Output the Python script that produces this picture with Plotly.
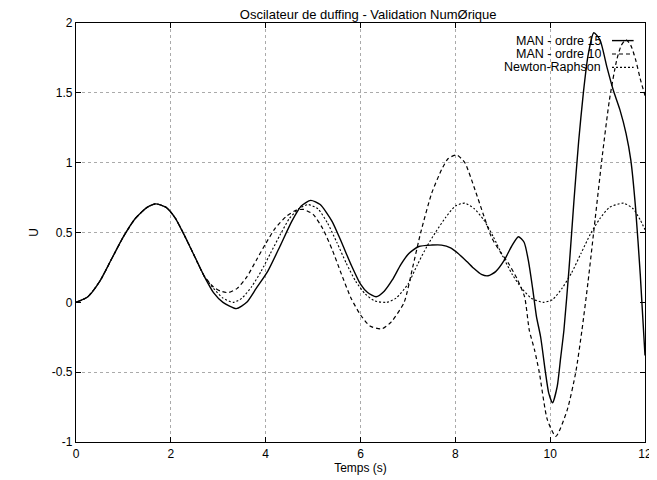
import plotly.graph_objects as go

# Common start (all three solutions coincide)
t_common = [0, 0.25, 0.5, 0.75, 1.0, 1.25, 1.5, 1.68, 1.9, 2.1, 2.3, 2.5, 2.7]
u_common = [0, 0.04, 0.15, 0.31, 0.47, 0.60, 0.68, 0.705, 0.68, 0.60, 0.47, 0.33, 0.19]

# MAN - ordre 15 (solid)
t_man15 = [2.9, 3.1, 3.38, 3.6, 3.8, 4.04, 4.3, 4.55, 4.75, 4.95, 5.15, 5.4, 5.6, 5.8,
           6.0, 6.15, 6.33, 6.5, 6.67, 6.85, 7.02, 7.23, 7.5, 7.71, 7.9, 8.06, 8.25,
           8.4, 8.55, 8.69, 8.85, 9.03, 9.2, 9.33, 9.45, 9.54, 9.63, 9.71, 9.8, 9.9,
           9.97, 10.05, 10.15, 10.22, 10.29, 10.4, 10.5, 10.6, 10.7, 10.8, 10.92,
           11.05, 11.2, 11.33, 11.47, 11.6, 11.7, 11.8, 11.9, 12.0]
u_man15 = [0.07, 0.0, -0.045, 0.0, 0.10, 0.22, 0.40, 0.58, 0.69, 0.73, 0.70, 0.58, 0.43,
           0.27, 0.13, 0.07, 0.04, 0.08, 0.16, 0.27, 0.35, 0.40, 0.41, 0.41, 0.39, 0.35,
           0.29, 0.24, 0.20, 0.19, 0.22, 0.30, 0.41, 0.47, 0.43, 0.30, 0.10, -0.10,
           -0.25, -0.50, -0.65, -0.72, -0.60, -0.40, -0.20, 0.25, 0.72, 1.15, 1.50,
           1.77, 1.93, 1.88, 1.68, 1.52, 1.38, 1.21, 1.02, 0.68, 0.20, -0.38]

# MAN - ordre 10 (dashed)
t_man10 = [2.9, 3.05, 3.21, 3.4, 3.6, 3.8, 4.0, 4.2, 4.45, 4.65, 4.8, 5.0, 5.2, 5.4,
           5.6, 5.8, 6.0, 6.2, 6.45, 6.65, 6.92, 7.1, 7.27, 7.5, 7.71, 7.85, 8.03,
           8.2, 8.42, 8.6, 8.77, 8.95, 9.12, 9.3, 9.46, 9.56, 9.67, 9.77, 9.94,
           10.12, 10.36, 10.54, 10.67, 10.8, 10.95, 11.1, 11.25, 11.4, 11.5, 11.6,
           11.7, 11.8, 11.9, 12.0]
u_man10 = [0.11, 0.08, 0.07, 0.10, 0.18, 0.30, 0.42, 0.53, 0.62, 0.66, 0.665, 0.63,
           0.53, 0.38, 0.20, 0.03, -0.09, -0.17, -0.19, -0.14, 0.0, 0.25, 0.50, 0.78,
           0.95, 1.03, 1.055, 1.0, 0.80, 0.62, 0.46, 0.36, 0.28, 0.17, 0.04, -0.20,
           -0.34, -0.50, -0.84, -0.96, -0.77, -0.50, -0.20, 0.15, 0.60, 1.05, 1.45,
           1.73, 1.84, 1.88, 1.84, 1.74, 1.60, 1.48]

# Newton-Raphson (dotted)
t_nr = [2.9, 3.1, 3.32, 3.5, 3.7, 3.9, 4.1, 4.3, 4.5, 4.7, 4.9, 5.1, 5.3, 5.5, 5.7,
        5.9, 6.1, 6.3, 6.55, 6.75, 7.0, 7.2, 7.4, 7.58, 7.8, 8.0, 8.2, 8.4, 8.6, 8.8,
        9.0, 9.2, 9.4, 9.6, 9.85, 10.05, 10.25, 10.45, 10.65, 10.85, 11.05, 11.25,
        11.55, 11.75, 11.9, 12.0]
u_nr = [0.10, 0.03, 0.0, 0.03, 0.11, 0.22, 0.35, 0.48, 0.60, 0.67, 0.70, 0.67, 0.57,
        0.43, 0.28, 0.15, 0.06, 0.01, 0.0, 0.03, 0.13, 0.27, 0.40, 0.50, 0.61, 0.69,
        0.71, 0.67, 0.59, 0.47, 0.33, 0.20, 0.10, 0.03, 0.0, 0.02, 0.10, 0.21, 0.35,
        0.49, 0.60, 0.68, 0.71, 0.67, 0.59, 0.52]

names = ["MAN - ordre 15", "MAN - ordre 10", "Newton-Raphson"]
dashes = ["solid", "4px,3px", "2px,2px"]
widths = [1.4, 1.2, 1.1]

series = [(t_man15, u_man15), (t_man10, u_man10), (t_nr, u_nr)]

x_ticks = [0, 2, 4, 6, 8, 10, 12]
y_ticks = [-1, -0.5, 0, 0.5, 1, 1.5, 2]
y_grid = [-0.5, 0.5, 1, 1.5]

FONT = "Liberation Sans, Arial, sans-serif"

fig = go.Figure()
for (ts, us), name, dsh, w in zip(series, names, dashes, widths):
    fig.add_trace(go.Scatter(
        x=t_common + ts, y=u_common + us, mode="lines", name=name,
        line=dict(color="black", width=w, dash=dsh, shape="spline", smoothing=0.6),
        showlegend=False,
    ))

# invisible trace to host the grid-only overlay axis
fig.add_trace(go.Scatter(x=[0], y=[0], yaxis="y2", mode="markers",
                         marker=dict(opacity=0), showlegend=False, hoverinfo="skip"))

# custom legend (text left of line sample, gnuplot style)
leg_y = [0.958, 0.926, 0.894]
for name, dsh, w, ly in zip(names, dashes, widths, leg_y):
    fig.add_annotation(x=0.925, y=ly, xref="paper", yref="paper", text=name,
                       showarrow=False, xanchor="right", yanchor="middle",
                       borderpad=0, height=12,
                       font=dict(family=FONT, size=12.5, color="black"))
    fig.add_shape(type="line", xref="paper", yref="paper", x0=0.942, x1=0.98,
                  y0=ly, y1=ly, line=dict(color="black", width=w, dash=dsh))

# page body has an 8px default margin, so the figure is sized/offset to compensate
fig.update_layout(
    width=649, height=472,
    margin=dict(l=68, r=5, t=15, b=38),
    paper_bgcolor="white", plot_bgcolor="white",
    font=dict(family=FONT, size=12, color="black"),
    title=dict(text="Oscilateur de duffing - Validation NumØrique", x=0.555, xanchor="center",
               xref="container", yref="container", y=0.997, yanchor="top",
               pad=dict(t=0, b=0),
               font=dict(family=FONT, size=13, color="black")),
    xaxis=dict(range=[0, 12], tickvals=x_ticks, ticktext=[str(v) for v in x_ticks],
               showline=True, linecolor="black", linewidth=1.2, mirror="ticks",
               ticks="inside", ticklen=5, tickcolor="black",
               ticklabeloverflow="allow",
               showgrid=True, gridcolor="#aaaaaa", griddash="dot", gridwidth=1,
               zeroline=False,
               title=dict(text="Temps (s)", standoff=4, font=dict(size=12))),
    yaxis=dict(range=[-1, 2], tickvals=y_ticks, ticktext=[str(v) for v in y_ticks],
               showline=True, linecolor="black", linewidth=1.2, mirror="ticks",
               ticks="inside", ticklen=5, tickcolor="black",
               showgrid=False, zeroline=False,
               title=dict(text="U", standoff=10, font=dict(size=12))),
    yaxis2=dict(range=[-1, 2], overlaying="y", side="left", tickvals=y_grid,
                showticklabels=False, ticks="", showline=False, zeroline=False,
                showgrid=True, gridcolor="#aaaaaa", griddash="dot", gridwidth=1),
)

fig.write_html("out.html")
